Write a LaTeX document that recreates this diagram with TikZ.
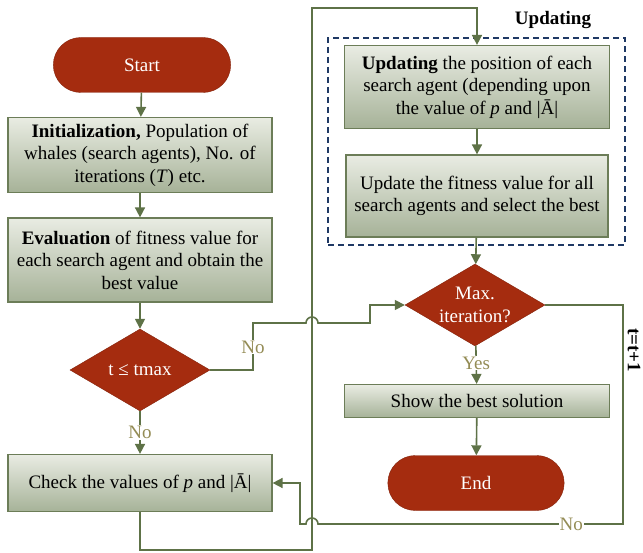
\documentclass[tikz,border=0pt]{standalone}
\usepackage{fontspec}
\setmainfont{Liberation Serif}
\usepackage{tikz}
\usetikzlibrary{arrows.meta,positioning,shapes.geometric,shapes.misc,calc}

\definecolor{lineg}{HTML}{5E7247}
\definecolor{redf}{HTML}{A52C0F}
\definecolor{boxtop}{HTML}{E9ECE3}
\definecolor{boxbot}{HTML}{A6B298}
\definecolor{boxedge}{HTML}{6C7D58}
\definecolor{lblc}{HTML}{948C55}
\definecolor{dashc}{HTML}{1F3864}

\begin{document}
\begin{tikzpicture}[
  x=1pt,y=1pt,
  font=\fontsize{19}{22.5}\selectfont,
  box/.style={rectangle,draw=boxedge,line width=1.2pt,top color=boxtop,bottom color=boxbot,align=center,inner sep=1pt},
  term/.style={rounded rectangle,fill=redf,draw=redf!80!black,text=white,minimum width=184pt,minimum height=55pt},
  dec/.style={diamond,fill=redf,draw=redf!80!black,text=white,align=center,inner sep=-9pt,aspect=1.75,minimum width=140pt,minimum height=82pt},
  arr/.style={-{Triangle[length=10pt,width=10pt]},draw=lineg,line width=1.6pt},
  lbl/.style={fill=white,text=lblc,inner sep=1pt}
]
\useasboundingbox (0,0) rectangle (643,-553);
% left column
\node[term] (start) at (142,-65) {Start};
\node[box,minimum width=264pt,minimum height=75pt] (init) at (140,-155)
  {\textbf{Initialization,} Population of\\whales (search agents), No. of\\iterations (\textit{T}) etc.};
\node[box,minimum width=264pt,minimum height=84pt] (eval) at (140,-260)
  {\textbf{Evaluation} of fitness value for\\each search agent and obtain the\\best value};
\node[dec] (tmax) at (140,-370) {t ≤ tmax};
\node[box,minimum width=264pt,minimum height=57pt] (check) at (140,-483)
  {Check the values of \textit{p} and |Ā|};
% updating block
\node[rectangle,draw=dashc,dashed,dash pattern=on 6pt off 4pt,line width=1.6pt,minimum width=297pt,minimum height=207pt] (upd) at (476.5,-141.5) {};
\node[font=\fontsize{19}{22}\selectfont\bfseries] (updlbl) at (553,-20) {Updating};
\node[box,minimum width=265pt,minimum height=83pt] (upos) at (477,-87)
  {\textbf{Updating} the position of each\\search agent (depending upon\\the value of \textit{p} and |Ā|};
\node[box,minimum width=262pt,minimum height=82pt] (ufit) at (477,-196)
  {Update the fitness value for all\\search agents and select the best};
% right column
\node[dec] (maxit) at (475,-305) {Max.\\iteration?};
\node[box,minimum width=265pt,minimum height=33pt] (show) at (477,-401) {Show the best solution};
\node[term,minimum width=183pt] (end) at (476,-483) {End};
\node[rotate=-90,font=\fontsize{19}{22}\selectfont\bfseries] (incr) at (634,-350) {t=t+1};
% helper points
\coordinate (c1) at (312,-550);
\coordinate (c2) at (312,-8);
\coordinate (c3) at (623,-524);
% connectors
\draw[arr] (start) -- (init);
\draw[arr] (init) -- (eval);
\draw[arr] (eval) -- (tmax);
\draw[arr] (tmax) -- node[lbl]{No} (check);
\draw[arr] (check.south) |- (c1) -- (c2) -| (upos.north);
\draw[arr] (upos) -- (ufit);
\draw[arr] (ufit) -- (maxit);
\draw[arr] (tmax.east) -| (253,-347) node[lbl]{No} |- (306,-323)
  arc[start angle=180,end angle=0,radius=6] -| (370,-305) -- (maxit.west);
\draw[arr] (maxit) -- node[lbl,pos=0.45]{Yes} (show);
\draw[arr] (show) -- (end);
\draw[arr] (maxit.east) -| (c3) -- node[lbl,pos=0.17]{No} (318,-524)
  arc[start angle=0,end angle=180,radius=6] -- (300,-524) |- (check.east);
\end{tikzpicture}
\end{document}
